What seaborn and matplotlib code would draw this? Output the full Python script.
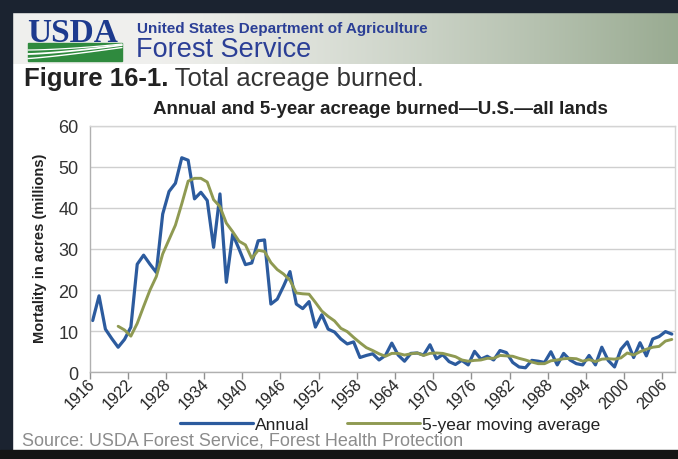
import numpy as np
import matplotlib
matplotlib.use("Agg")
import matplotlib.pyplot as plt
import seaborn as sns
from matplotlib.patches import Rectangle

# ---------------- data ----------------
years = list(range(1916, 2008))
annual = [12.6, 18.6, 10.5, 8.2, 6.1, 8.0, 11.0, 26.3, 28.5, 26.3,
          24.3, 38.5, 44.0, 46.0, 52.2, 51.6, 42.2, 43.8, 41.8, 30.4,
          43.4, 21.9, 33.6, 30.0, 26.2, 26.6, 32.0, 32.2, 16.6, 17.8,
          21.0, 24.5, 16.6, 15.5, 17.2, 11.0, 14.0, 10.5, 9.8, 8.1,
          6.9, 7.4, 3.6, 4.1, 4.5, 3.0, 4.1, 7.1, 4.2, 2.7,
          4.6, 4.7, 4.2, 6.7, 3.3, 4.3, 2.6, 1.9, 2.9, 1.8,
          5.1, 3.2, 3.9, 3.0, 5.3, 4.8, 2.4, 1.3, 1.1, 2.9,
          2.7, 2.4, 5.0, 1.8, 4.6, 3.0, 2.1, 1.8, 4.1, 1.8,
          6.1, 2.9, 1.3, 5.6, 7.4, 3.6, 7.2, 4.0, 8.1, 8.7,
          9.9, 9.3]
ma_years = list(range(1920, 2008))
moving_avg = [11.2, 10.3, 8.8, 11.9, 16.0, 20.0, 23.3, 28.8, 32.3, 35.8,
              41.0, 46.5, 47.2, 47.2, 46.3, 42.0, 40.3, 36.3, 34.2, 31.9,
              31.0, 27.7, 29.7, 29.4, 26.7, 25.0, 23.9, 22.4, 19.3, 19.1,
              19.0, 17.0, 14.9, 13.6, 12.5, 10.7, 9.9, 8.5, 7.2, 6.0,
              5.3, 4.5, 3.9, 4.6, 4.6, 4.2, 4.5, 4.7, 4.1, 4.6,
              4.7, 4.6, 4.2, 3.8, 3.0, 2.7, 2.9, 3.0, 3.4, 3.4,
              4.1, 4.0, 3.9, 3.4, 3.0, 2.5, 2.1, 2.1, 2.8, 3.0,
              3.3, 3.4, 3.3, 2.7, 3.1, 2.6, 3.2, 3.3, 3.2, 3.5,
              4.7, 4.2, 5.0, 5.6, 6.1, 6.3, 7.6, 8.0]
y_ticks = [0, 10, 20, 30, 40, 50, 60]
x_label_years = [1916, 1922, 1928, 1934, 1940, 1946, 1952, 1958, 1964,
                 1970, 1976, 1982, 1988, 1994, 2000, 2006]
series_names = ["Annual", "5-year moving average"]

# ---------------- style ----------------
sns.set_style("white")
plt.rcParams['font.family'] = ['Liberation Sans', 'DejaVu Sans']

W, H = 678, 460
fig = plt.figure(figsize=(W / 100, H / 100), dpi=100, facecolor='white')

# overlay in pixel coordinates for header / decorations
ov = fig.add_axes([0, 0, 1, 1], zorder=0)
ov.axis('off')
ov.set_xlim(0, W)
ov.set_ylim(H, 0)
ov.set_autoscale_on(False)

ov.add_patch(Rectangle((0, 0), W, H, color='white', zorder=0.5))

# banner gradient
g = np.linspace(0, 1, 300)
t = np.clip((g - 0.2) / 0.8, 0, 1) ** 1.3
c0 = np.array([0.94, 0.94, 0.93])
c1 = np.array([0.60, 0.67, 0.57])
img = c0[None, :] * (1 - t[:, None]) + c1[None, :] * t[:, None]
ov.imshow(img[None, :, :], extent=(13, W, 65, 14), aspect='auto', zorder=1)
ov.set_xlim(0, W)
ov.set_ylim(H, 0)

dark = '#1b2330'
ov.add_patch(Rectangle((0, 0), W, 13, color=dark, zorder=2))
ov.add_patch(Rectangle((0, 0), 12, H, color=dark, zorder=2))
ov.add_patch(Rectangle((0, 451), W, 9, color='#151515', zorder=2))

# USDA logo
blue_txt = '#2b3f96'
ov.text(27, 42, 'USDA', family=['Liberation Serif', 'DejaVu Serif'], fontweight='bold',
        fontsize=24, color='#1d3a8e', ha='left', va='baseline', zorder=3)
ov.add_patch(Rectangle((28, 44), 94, 18, color='#2f8a3e', zorder=3))
xs = np.linspace(28, 122, 60)
u = (xs - 28) / 94
ov.plot(xs, 55 - 9 * u ** 1.4, color='white', lw=1.3, zorder=4)
ov.plot(xs, 59.5 - 11 * u ** 1.2, color='white', lw=1.0, zorder=4)
ov.plot(xs, 51 - 6 * u ** 1.6, color='white', lw=0.9, zorder=4)

ov.text(137, 29, 'United States Department of Agriculture', fontsize=11,
        fontweight='bold', color=blue_txt, ha='left', va='center', zorder=3)
ov.text(136, 50, 'Forest Service', fontsize=19.5, color=blue_txt,
        ha='left', va='center', zorder=3)

t1 = ov.text(24, 86, 'Figure 16-1.', fontsize=18.5, fontweight='bold', color='#222222',
             ha='left', va='baseline', zorder=3)
ov.annotate(' Total acreage burned.', xy=(1, 0), xycoords=t1, fontsize=18.5,
            color='#333333', ha='left', va='bottom', zorder=3)

ov.text(380, 110, 'Annual and 5-year acreage burned\u2014U.S.\u2014all lands',
        fontsize=13.5, fontweight='bold', color='#222222', ha='center', va='center', zorder=3)

ov.text(40, 248, 'Mortality in acres (millions)', fontsize=10.5, fontweight='bold',
        color='#222222', rotation=90, ha='center', va='center', zorder=3)

ov.text(22, 441, 'Source: USDA Forest Service, Forest Health Protection',
        fontsize=13, color='#8c8c8c', ha='left', va='center', zorder=3)

# ---------------- main chart ----------------
left, right, top, bottom = 89.5, 675, 126.7, 373.3
ax = fig.add_axes([left / W, 1 - bottom / H, (right - left) / W, (bottom - top) / H], zorder=2)
ax.set_facecolor('white')

c_annual = '#2c5b9e'
c_ma = '#8f9a52'
sns.lineplot(x=years, y=annual, ax=ax, color=c_annual, lw=2.3, label=series_names[0])
sns.lineplot(x=ma_years, y=moving_avg, ax=ax, color=c_ma, lw=2.1, label=series_names[1])

ax.set_xlim(1915.5, 2007.5)
ax.set_ylim(0, 60)
ax.set_yticks(y_ticks)
ax.yaxis.grid(True, color='#cfcfcf', lw=1)
ax.xaxis.grid(False)
ax.set_xlabel('')
ax.set_ylabel('')

ax.set_xticks(x_label_years)
ax.set_xticklabels([str(v) for v in x_label_years], rotation=45, ha='right',
                   rotation_mode='anchor', fontsize=11.5, color='#222222')
ax.set_xticks(np.arange(1915.5, 2007.6, 1), minor=True)
ax.tick_params(axis='x', which='major', length=0, pad=6)
ax.tick_params(axis='x', which='minor', length=3, color='#a0a0a0', width=0.8, direction='out')
ax.tick_params(axis='y', which='major', length=4, color='#b0b0b0', labelsize=13,
               labelcolor='#333333', pad=4)
for lab in ax.get_xticklabels():
    lab.set_va('center')

sec = ax.secondary_xaxis('bottom')
sec.set_xticks(np.arange(1915.5, 2007.6, 6))
sec.set_xticklabels([])
sec.tick_params(length=5, color='#909090', width=1)
sec.spines['bottom'].set_visible(False)

for s, c in [('left', '#b0b0b0'), ('bottom', '#b0b0b0'), ('right', '#d4d4d4'), ('top', '#d4d4d4')]:
    ax.spines[s].set_color(c)
    ax.spines[s].set_linewidth(1)

ax.legend(loc='center', bbox_to_anchor=(390 / W, 1 - 425 / H), bbox_transform=fig.transFigure,
          ncol=2, frameon=False, handlelength=4.2, handletextpad=0.1, columnspacing=2.2,
          fontsize=12.5, labelcolor='#222222')

fig.savefig('out.png', dpi=100, facecolor='white')
